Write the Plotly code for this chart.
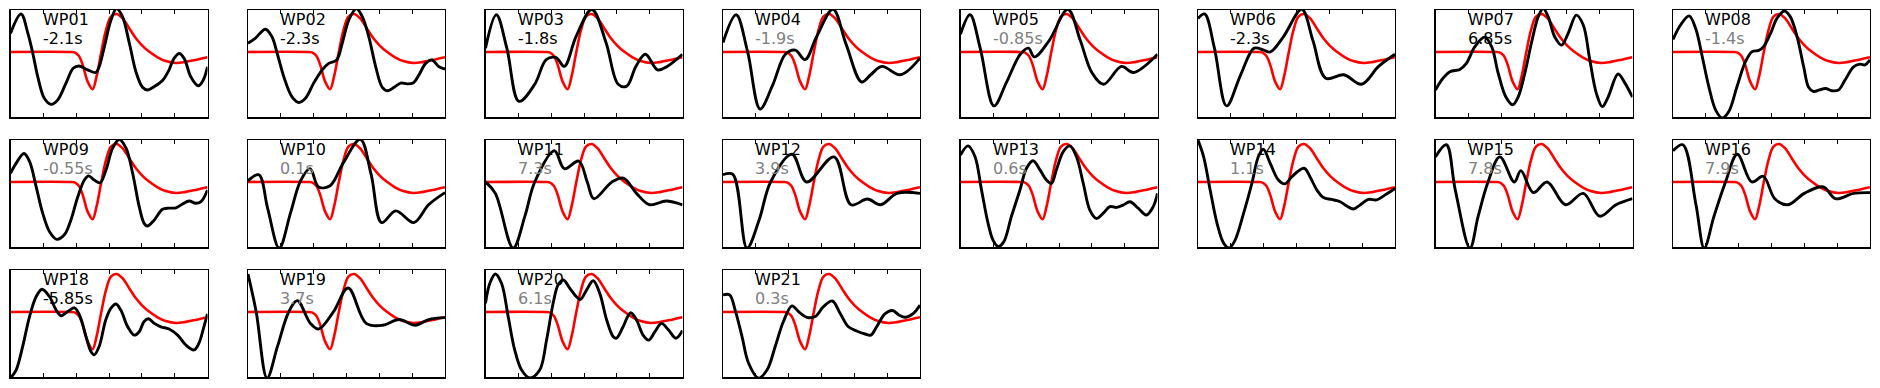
import plotly.graph_objects as go

# ---------------- data ----------------
names = ["WP01", "WP02", "WP03", "WP04", "WP05", "WP06", "WP07", "WP08",
         "WP09", "WP10", "WP11", "WP12", "WP13", "WP14", "WP15", "WP16",
         "WP18", "WP19", "WP20", "WP21"]
shifts = ["-2.1s", "-2.3s", "-1.8s", "-1.9s", "-0.85s", "-2.3s", "6.85s", "-1.4s",
          "-0.55s", "0.1s", "7.3s", "3.9s", "0.6s", "1.1s", "7.8s", "7.9s",
          "-5.85s", "3.7s", "6.1s", "0.3s"]
shift_black = [True, True, True, False, False, True, True, False,
               False, False, False, False, False, False, False, False,
               True, False, False, False]

# synthetic (red) waveform, same for every station
red_x = [0, 18, 19.5, 20.8, 22, 23.5, 25, 26.2, 27.6, 29.1, 30.6, 32.3, 34.1, 36.2,
         38.2, 40.2, 42.2, 44.8, 47.3, 50.4, 53.4, 56.4, 60]
red_y = [0, 0, -0.01, -0.1, -0.34, -0.78, -0.98, -0.65, -0.03, 0.58, 0.93, 1.0, 0.89,
         0.62, 0.36, 0.16, 0.01, -0.14, -0.24, -0.29, -0.26, -0.21, -0.14]

# observed (black) waveforms: (time, amplitude)
wp01 = [(0, 0.49), (3.2, 1.0), (5.3, 0.49), (6.8, -0.04), (8.3, -0.65), (10.3, -1.22), (12.4, -1.38),
        (14.4, -1.26), (16.9, -0.82), (19.1, -0.43), (20.8, -0.37), (23.5, -0.47), (26, -0.54),
        (27, -0.39), (28.6, 0.14), (30.6, 0.84), (32.3, 1.14), (34.1, 0.93), (36.2, 0.23),
        (38.2, -0.52), (40.2, -0.93), (41.7, -1.0), (43.8, -0.91), (46.3, -0.75), (48.3, -0.47),
        (49.8, -0.17), (51.4, -0.04), (52.9, -0.17), (54.9, -0.65), (57.2, -0.89), (58.7, -0.74),
        (60, -0.39)]
wp02 = [(0, 0.23), (2.2, 0.36), (5.3, 0.6), (7.3, 0.4), (8.9, -0.04), (10.9, -0.65), (13.4, -1.18),
        (15.5, -1.33), (17.5, -1.22), (20, -0.82), (22.6, -0.47), (24.6, -0.3), (27, -0.21),
        (28.7, 0.23), (30.7, 0.84), (33, 1.14), (34.8, 0.93), (36.8, 0.4), (38.9, -0.39),
        (40.9, -0.93), (42.6, -1.02), (44.5, -0.93), (46.5, -0.82), (48.5, -0.84), (50.4, -0.81),
        (52.1, -0.6), (54.1, -0.3), (56, -0.21), (58.2, -0.39), (60, -0.45)]
wp03 = [(0, 0.1), (3.3, 0.98), (6.5, 0.1), (10.2, -1.3), (15, -0.85), (18.5, -0.2), (21.5, -0.15),
        (24, -0.38), (27.6, 0.41), (32.4, 1.12), (36.7, 0.25), (40.4, -0.85), (43, -0.9),
        (45.8, -0.38), (48.7, -0.06), (52.4, -0.47), (55.3, -0.38), (60, -0.06)]
wp04 = [(0, 0.25), (4, 0.98), (7.5, 0.0), (11.3, -1.5), (15, -0.9), (19, -0.06), (22, 0.05),
        (25, -0.2), (28.5, 0.4), (33.5, 1.12), (37.5, 0.2), (42.2, -0.79), (45, -0.6), (48.4, -0.38),
        (54, -0.6), (60, -0.16)]
wp05 = [(0, 0.47), (2.9, 0.98), (6, 0.1), (10.2, -1.42), (14, -0.8), (18.2, -0.06), (20.7, 0.1),
        (22.5, -0.13), (27, 0.3), (32.7, 1.12), (36.5, 0.3), (40, -0.54), (43.6, -0.85),
        (49, -0.38), (52.7, -0.54), (60, -0.06)]
wp06 = [(0, 0.88), (2, 1.0), (5, 0.1), (8.7, -1.42), (13, -0.6), (17.1, 0.1), (20, 0.05), (22, 0),
        (26, 0.4), (31.6, 1.12), (35, 0.3), (38.9, -0.69), (44.4, -0.6), (49.8, -0.85), (55, -0.38),
        (60, -0.06)]
wp07 = [(0, -1.0), (2.3, -0.69), (4.4, -0.52), (7.4, -0.46), (9.4, -0.3), (12, 0.14), (15, 0.39),
        (17.1, 0.14), (19.1, -0.56), (21.4, -1.18), (23.5, -1.39), (25.2, -1.18), (27.2, -0.56),
        (29.2, 0.23), (31.3, 0.93), (32.8, 1.14), (34.3, 0.93), (36.3, 0.4), (38.4, 0.18),
        (40.4, 0.49), (42.9, 0.97), (45, 0.71), (47, -0.21), (49, -1.09), (50.8, -1.44),
        (52.6, -1.18), (55.6, -0.58), (57.7, -0.82), (60, -1.19)]
wp08 = [(0, 0.33), (2.3, 0.71), (4.9, 0.95), (6.9, 0.62), (8.9, -0.12), (10.9, -0.91), (13, -1.53),
        (15, -1.74), (17, -1.57), (19.5, -0.91), (22.1, -0.25), (24.1, 0.01), (26.1, 0.04),
        (27.6, 0.14), (29.7, 0.49), (31.7, 0.89), (33.9, 1.08), (35.7, 0.93), (37.8, 0.4),
        (39.8, -0.39), (41.3, -0.93), (42.8, -1.04), (44.6, -1.0), (46.4, -0.96), (48.4, -1.02),
        (50.4, -1.0), (52.4, -0.74), (55, -0.39), (57, -0.32), (58.5, -0.34), (60, -0.21)]
wp09 = [(0, 0.23), (1.7, 0.49), (4.1, 0.75), (5.8, 0.54), (7.8, -0.12), (9.8, -0.82), (11.9, -1.31),
        (14.1, -1.51), (16.4, -1.39), (18.4, -1.0), (20.5, -0.39), (22.5, 0.05), (23.8, 0.16),
        (25.5, 0.05), (27.3, -0.02), (29.1, 0.32), (31.1, 0.89), (33.1, 1.12), (35.2, 0.89),
        (37.2, 0.23), (39.2, -0.65), (40.7, -1.09), (41.7, -1.16), (43.8, -1.0), (46.3, -0.72),
        (48.3, -0.69), (50.4, -0.68), (52.4, -0.58), (54.4, -0.5), (56.4, -0.56), (58, -0.52),
        (60, -0.21)]
wp10 = [(0, 0.03), (3.3, 0.19), (6, -0.7), (9.5, -1.74), (13, -0.8), (16, 0.03), (18.9, 0.35),
        (21.5, -0.13), (25, -0.1), (29, 0.5), (34.2, 1.12), (37.5, 0.2), (40.7, -1.07), (45, -0.76),
        (50.5, -1.07), (55, -0.6), (60, -0.28)]
wp11 = [(0, 0.0), (3, -0.3), (8.4, -1.74), (12, -0.9), (15, 0.0), (21, 0.82), (24, 0.35),
        (28.4, 0.55), (31, 0.0), (33, -0.44), (38.5, 0.0), (42, 0.1), (46, -0.3), (50, -0.6),
        (55, -0.5), (60, -0.6)]
wp12 = [(0, 0.19), (3, 0.2), (7.3, -1.74), (11, -1.0), (14.5, 0.0), (21, 0.73), (25.5, 0.0),
        (33.8, 0.66), (39, -0.6), (44, -0.45), (48, -0.6), (53, -0.3), (60, -0.3)]
wp13 = [(0, 0.71), (2.3, 0.95), (4.4, 0.67), (6.4, -0.21), (8.4, -1.09), (9.9, -1.53), (11.5, -1.7),
        (13.2, -1.57), (15.5, -0.91), (18.1, -0.21), (20.1, 0.36), (22.1, 0.56), (24.2, 0.32),
        (26.2, 0.05), (27.7, -0.04), (29.2, 0.32), (31.3, 0.8), (33.3, 0.95), (35.3, 0.67),
        (37.4, -0.04), (39.4, -0.74), (41.4, -0.96), (43.5, -0.82), (45.5, -0.65), (47.5, -0.67),
        (49.5, -0.61), (51.6, -0.52), (54.1, -0.69), (56.6, -0.87), (58.7, -0.65), (60, -0.3)]
wp14 = [(0, 1.1), (1.7, 0.67), (3.7, -0.21), (5.8, -1.09), (7.8, -1.61), (9.5, -1.74), (11.3, -1.53),
        (13.9, -0.82), (16.4, -0.04), (18.4, 0.67), (19.9, 0.86), (22, 0.49), (24.5, 0.05),
        (26.5, -0.05), (28.6, 0.14), (32.3, 0.36), (34.1, 0.14), (36.2, -0.21), (38.2, -0.41),
        (40.7, -0.46), (43.3, -0.52), (45.3, -0.63), (47.3, -0.71), (49.3, -0.61), (51.9, -0.46),
        (54.4, -0.47), (57, -0.34), (60, -0.17)]
wp15 = [(0, 0.66), (3.3, 0.98), (6, -0.2), (10.5, -1.74), (13, -0.9), (16, 0.0), (19.6, 0.66),
        (24, 0.0), (26, 0.3), (29.8, -0.28), (34, 0.0), (39.6, -0.6), (45, -0.3), (50, -0.9),
        (55, -0.6), (60, -0.44)]
wp16 = [(0, 0.82), (3, 0.98), (7, -0.6), (9.5, -1.74), (12.5, -0.9), (16, 0.0), (19.6, 0.73),
        (24, 0.0), (27.5, 0.15), (31, -0.44), (35, -0.6), (40, -0.3), (45.8, -0.13), (49.5, -0.44),
        (55, -0.3), (60, -0.28)]
wp18 = [(0, -1.74), (1.7, -1.53), (3.7, -0.91), (5.8, -0.12), (7.8, 0.4), (9.6, 0.6), (11.9, 0.4),
        (13.9, 0.05), (15.4, -0.1), (17.4, 0.01), (19.5, 0.11), (21.2, -0.12), (23, -0.65),
        (24.5, -1.04), (25.5, -1.13), (27, -0.91), (29, -0.21), (30.6, 0.1), (32.1, 0.21),
        (33.6, 0.05), (35.7, -0.39), (37.7, -0.61), (39.2, -0.52), (40.7, -0.25), (42, -0.18),
        (43.8, -0.3), (45.8, -0.39), (48.3, -0.45), (50.9, -0.61), (53.4, -0.87), (55.9, -1.0),
        (57.4, -0.82), (58.9, -0.39), (60, -0.05)]
wp19 = [(0, 1.0), (2.5, 0.0), (5.8, -1.74), (9, -0.9), (12.4, 0.0), (15, 0.3), (19, -0.3),
        (21.5, -0.45), (26, 0.0), (30.5, 0.63), (36, -0.3), (41, -0.35), (46, -0.2), (51, -0.35),
        (55, -0.2), (60, -0.15)]
wp20 = [(0, 0.23), (1.3, 0.75), (3, 1.0), (4.9, 0.75), (6.9, -0.12), (8.9, -1.0), (11, -1.53),
        (13.5, -1.74), (16.5, -1.53), (18.6, -0.74), (20.6, 0.23), (22.1, 0.71), (23.7, 0.84),
        (25.7, 0.62), (27.7, 0.4), (28.9, 0.33), (30.8, 0.58), (32.8, 0.82), (34.8, 0.49),
        (36.9, -0.21), (38.9, -0.65), (39.9, -0.69), (41.9, -0.39), (44.2, -0.02), (46, -0.21),
        (48, -0.61), (49.7, -0.74), (51.6, -0.52), (53.6, -0.3), (55.7, -0.47), (58, -0.69),
        (60, -0.49)]
wp21 = [(0, 0.45), (2, 0.45), (3.7, 0.05), (5.8, -0.65), (7.8, -1.35), (10.8, -1.74), (13.4, -1.53),
        (15.9, -0.91), (18.4, -0.25), (21, 0.16), (23, 0.01), (25.5, -0.14), (28.1, -0.12),
        (30.6, 0.14), (33.3, 0.29), (35.7, -0.04), (38.2, -0.39), (40.7, -0.5), (43.3, -0.58),
        (45, -0.61), (46.8, -0.39), (49.3, -0.05), (51.6, 0.04), (53.6, -0.08), (55.6, -0.14),
        (58, -0.04), (60, 0.18)]
observed = [wp01, wp02, wp03, wp04, wp05, wp06, wp07, wp08, wp09, wp10, wp11, wp12,
            wp13, wp14, wp15, wp16, wp18, wp19, wp20, wp21]

x_ticks = [10, 20, 30, 40, 50]

# ---------------- layout geometry (pixels) ----------------
W, H = 1880, 388
col_left0, col_pitch, panel_w = 10.5, 237.5, 197
row_top0, row_pitch, panel_h = 10, 130, 107.3
ncols = 8
y_lo, y_hi = -1.72, 1.105

fig = go.Figure()
layout = dict(width=W, height=H, margin=dict(l=0, r=0, t=0, b=0, pad=0),
              paper_bgcolor="white", plot_bgcolor="white", showlegend=False,
              font=dict(family="DejaVu Sans", size=16, color="black"))
annotations = []

for i, name in enumerate(names):
    r, c = divmod(i, ncols)
    left = col_left0 + c * col_pitch
    top = row_top0 + r * row_pitch
    k = i + 1
    xa = "xaxis" if k == 1 else f"xaxis{k}"
    ya = "yaxis" if k == 1 else f"yaxis{k}"
    xr = "x" if k == 1 else f"x{k}"
    yr = "y" if k == 1 else f"y{k}"
    layout[xa] = dict(domain=[left / W, (left + panel_w) / W], range=[0, 60],
                      anchor=yr, showgrid=False, zeroline=False, showline=True,
                      linecolor="black", linewidth=1.2, mirror="ticks", ticks="inside",
                      ticklen=4, tickwidth=1, tickcolor="black", tickvals=x_ticks,
                      showticklabels=False, fixedrange=True)
    layout[ya] = dict(domain=[1 - (top + panel_h) / H, 1 - top / H], range=[y_lo, y_hi],
                      anchor=xr, showgrid=False, zeroline=False, showline=True,
                      linecolor="black", linewidth=1.2, mirror=True, ticks="",
                      showticklabels=False, fixedrange=True)
    fig.add_trace(go.Scatter(x=red_x, y=red_y, mode="lines", xaxis=xr, yaxis=yr,
                             line=dict(color="#ff0000", width=2.6, shape="spline"),
                             hoverinfo="skip"))
    obs = observed[i]
    fig.add_trace(go.Scatter(x=[p[0] for p in obs], y=[p[1] for p in obs], mode="lines",
                             xaxis=xr, yaxis=yr,
                             line=dict(color="black", width=2.9, shape="spline"),
                             hoverinfo="skip"))
    tx = (left + 31) / W
    annotations.append(dict(text=name, x=tx, y=1 - (top + 9.6) / H, xref="paper", yref="paper",
                            xanchor="left", yanchor="middle", showarrow=False, borderpad=0,
                            font=dict(family="DejaVu Sans", size=16, color="black")))
    annotations.append(dict(text=shifts[i], x=tx, y=1 - (top + 28.2) / H, xref="paper",
                            yref="paper", xanchor="left", yanchor="middle", showarrow=False,
                            borderpad=0,
                            font=dict(family="DejaVu Sans", size=16,
                                      color="black" if shift_black[i] else "#808080")))

layout["annotations"] = annotations
fig.update_layout(**layout)
fig.write_html("out.html", config={"displayModeBar": False, "staticPlot": True},
               post_script="document.body.style.margin='0';document.body.style.overflow='hidden';")
